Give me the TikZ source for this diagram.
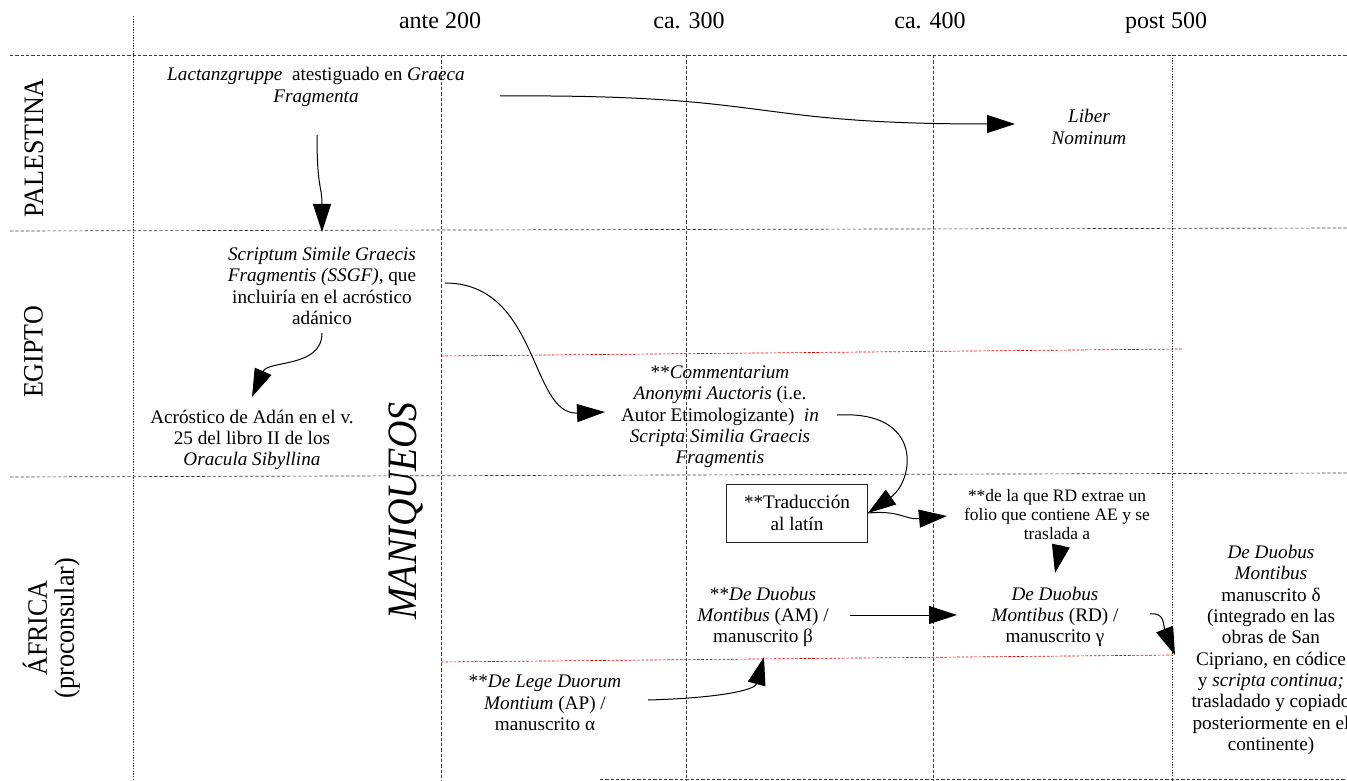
\documentclass[tikz,border=0pt]{standalone}
\usepackage{fontspec}
\usepackage{graphicx}
\setmainfont{Liberation Serif}
\usetikzlibrary{arrows.meta}

\tikzset{
  grid/.style={black!75, line width=0.5pt, dash pattern=on 2.5pt off 1.5pt},
  gridfine/.style={black!80, line width=0.5pt, dash pattern=on 1pt off 1pt},
  redline/.style={red!90!black, line width=0.5pt, dash pattern=on 2pt off 1.2pt},
  txt/.style={inner sep=0pt, align=center, font=\fontsize{14.4pt}{16pt}\selectfont},
  smalltxt/.style={txt, font=\fontsize{13.1pt}{14.25pt}\selectfont},
  head/.style={inner sep=0pt, anchor=base, font=\fontsize{18pt}{20pt}\selectfont},
  region/.style={inner sep=0pt, rotate=90},
  tbox/.style={txt, draw=black!85, line width=0.75pt, minimum width=105.75pt, minimum height=43.5pt},
  arr/.style={line width=0.75pt, -{Triangle[length=21pt,width=13.5pt]}},
}

\begin{document}
\begin{tikzpicture}[x=0.75pt,y=-0.75pt]
\useasboundingbox (0,0) rectangle (1347,781);
\clip (0,0) rectangle (1347,781);

% grid of regions (rows) and periods (columns)
\draw[grid] (10,55) -- (1347,55);
\draw[grid] (10,231) -- (1347,228);
\draw[grid] (10,477) -- (1347,473);
\draw[grid] (600,779) -- (1347,779);
\draw[gridfine] (133,16) -- (133,781);
\draw[grid] (441,55) -- (441,781);
\draw[grid] (686,55) -- (686,781);
\draw[grid] (933,55) -- (933,781);
\draw[gridfine] (1172,55) -- (1172,781);
\draw[redline] (441,356) -- (1183,349);
\draw[redline] (441,662) -- (1174,655);

% period headings
\node[head] (h200) at (440,29) {ante 200};
\node[head] (h300) at (689,29) {ca. 300};
\node[head] (h400) at (930,29) {ca. 400};
\node[head] (h500) at (1166,29) {post 500};

% region labels
\node[region] (pal) at (34,148) {\fontsize{19.5pt}{19.5pt}\selectfont\scalebox{1}[1.08]{PALESTINA}};
\node[region] (egi) at (33.5,352) {\fontsize{19.5pt}{19.5pt}\selectfont\scalebox{1}[1.08]{EGIPTO}};
\node[region] (afr) at (52,628) {\fontsize{19.5pt}{17.5pt}\selectfont\scalebox{1}[1.08]{\begin{tabular}{@{}c@{}}ÁFRICA\\(proconsular)\end{tabular}}};
\node[region] (man) at (406,511) {\itshape\fontsize{28.5pt}{30pt}\selectfont\scalebox{1}[1.1]{MANIQUEOS}};

% texts
\node[txt] (lac) at (316,87) {\textit{Lactanzgruppe}\ \ atestiguado en \textit{Graeca}\\\textit{Fragmenta}};
\node[txt] (lib) at (1089,127) {\textit{Liber}\\\textit{Nominum}};
\node[txt] (scr) at (322,286) {\textit{Scriptum Simile Graecis}\\\textit{Fragmentis (SSGF)}, que\\incluiría en el acróstico\\adánico};
\node[txt] (acr) at (252,440) {Acróstico de Adán en el v.\\25 del libro II de los\\\textit{Oracula Sibyllina}};
\node[txt] (com) at (720,417) {**\textit{Commentarium}\\\textit{Anonymi Auctoris} (i.e.\\Autor Etimologizante)\ \ \textit{in}\\\textit{Scripta Similia Graecis}\\\textit{Fragmentis}};
\node[tbox] (tra) at (797,513) {**Traducción\\al latín};
\node[smalltxt] (dlq) at (1057,515) {**de la que RD extrae un\\folio que contiene AE y se\\traslada a};
\node[txt] (am) at (763,617) {**\textit{De Duobus}\\\textit{Montibus} (AM) /\\manuscrito β};
\node[txt] (rd) at (1055,617) {\textit{De Duobus}\\\textit{Montibus} (RD) /\\manuscrito γ};
\node[txt] (ap) at (545,703) {**\textit{De Lege Duorum}\\\textit{Montium} (AP) /\\manuscrito α};
\node[txt] (del) at (1271,650) {\textit{De Duobus}\\\textit{Montibus}\\manuscrito δ\\(integrado en las\\obras de San\\Cipriano, en códice\\y \textit{scripta continua;}\\trasladado y copiado\\posteriormente en el\\continente)};

% connectors
\draw[arr] ([shift={(1,48)}]lac.center) .. controls +(0,55) and +(0,-47) .. ([shift={(0,-54)}]scr.center);
\draw[arr] ([shift={(184,9)}]lac.center) .. controls +(280,-2) and +(-275,0) .. ([shift={(-74,-3)}]lib.center);
\draw[arr] ([shift={(0,47)}]scr.center) .. controls +(0,35) and +(16,-37) .. ([shift={(0,-43)}]acr.center);
\draw[arr] ([shift={(123,-3)}]scr.center) .. controls +(94,0) and +(-75,3) .. ([shift={(-115,-5)}]com.center);
\draw[arr] ([shift={(117,-2)}]com.center) .. controls +(88,-5) and +(46,-32) .. (tra.east);
\draw[arr] (tra.east) .. controls +(32,-3) and +(-42,4) .. ([shift={(-110,1)}]dlq.center);
\draw[arr] ([shift={(4,30)}]dlq.center) -- ([shift={(0,-44)}]rd.center);
\draw[arr] ([shift={(87,-2)}]am.center) -- ([shift={(-98,-2)}]rd.center);
\draw[arr] ([shift={(95,-3)}]rd.center) .. controls +(15,-2) and +(-12,-30) .. ([shift={(-96,5)}]del.center);
\draw[arr] ([shift={(103,-3)}]ap.center) .. controls +(72,-2) and +(-9,33) .. ([shift={(1,40)}]am.center);
\end{tikzpicture}
\end{document}
